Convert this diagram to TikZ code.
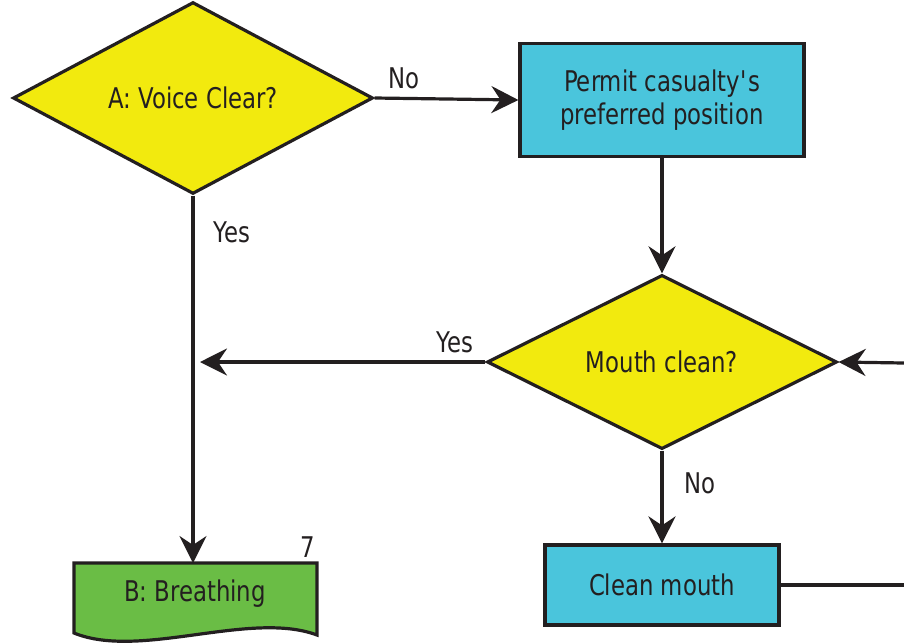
\documentclass[tikz,border=0pt]{standalone}
\usepackage{fontspec}
\setmainfont{DejaVu Sans}[FakeStretch=0.8]
\usetikzlibrary{shapes.geometric,arrows.meta}
\definecolor{ink}{RGB}{35,31,32}
\definecolor{askyellow}{RGB}{242,234,14}
\definecolor{docyan}{RGB}{74,197,220}
\definecolor{nextgreen}{RGB}{106,189,69}

\begin{document}
\begin{tikzpicture}[x=1pt, y=-1pt, >={Stealth[length=27pt,width=27pt,inset=9pt]},
    line width=3.2pt, draw=ink, text=ink, font=\fontsize{28.5}{33}\selectfont,
    decision/.style={diamond, draw=ink, fill=askyellow, inner sep=0pt},
    action/.style={rectangle, draw=ink, fill=docyan, align=center}]
    \useasboundingbox (0,0) rectangle (904,643);

    \node[decision, minimum width=360, minimum height=178] (A) at (193,98) {A: Voice Clear?};
    \node[action, minimum width=284, minimum height=113] (P) at (662,100) {Permit casualty\textquotesingle s\\preferred position};
    \node[decision, minimum width=350, minimum height=172] (M) at (662,362) {Mouth clean?};
    \node[action, minimum width=234, minimum height=80] (C) at (662,585) {Clean mouth};

    \filldraw[fill=nextgreen] (74,563) -- (317,563) -- (317,635)
        .. controls (250,610) and (140,660) .. (74,633) -- cycle;
    \node (B) at (195,594) {B: Breathing};
    \node (K) at (308,547) {7};

    \coordinate (Bt) at (193,563);
    \coordinate (J) at (200,362);
    \coordinate (R1) at (904,363);
    \coordinate (R2) at (904,585);

    \draw[->] (A.east) -- (P.west);
    \draw[->] (P) -- (M);
    \draw[->] (M.west) -- (J);
    \draw[->] (A.south) -- (Bt);
    \draw[->] (M) -- (C);
    \draw[->] (R1) -- (M.east);
    \draw (C.east) -- (R2);

    \node (N1) at (404,78) {No};
    \node (Y1) at (232,232) {Yes};
    \node (Y2) at (455,342) {Yes};
    \node (N2) at (700,483) {No};
\end{tikzpicture}
\end{document}
